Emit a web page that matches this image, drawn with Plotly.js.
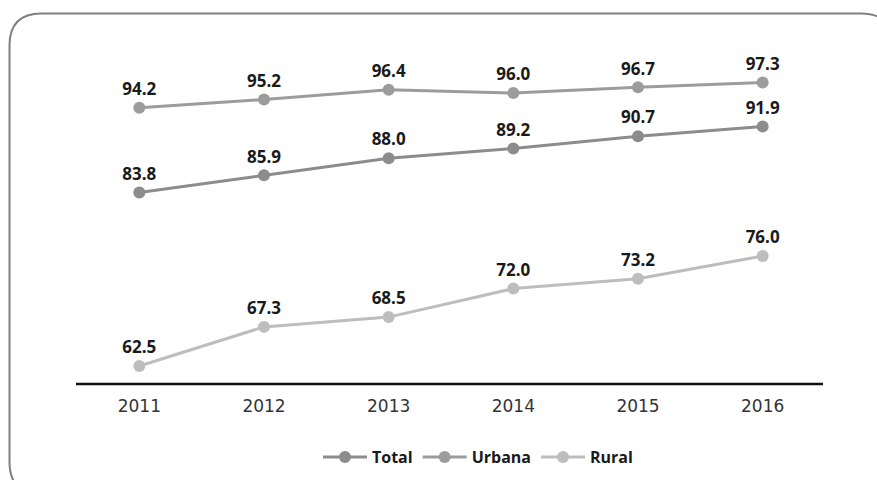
<!DOCTYPE html>
<html><head><meta charset="utf-8">
<script src="https://cdn.plot.ly/plotly-3.0.1.min.js"></script>
<style>html,body{margin:0;padding:0;background:#fff}#chart{width:877px;height:480px}</style>
</head><body><div id="chart"></div>
<script>
const years = ['2011','2012','2013','2014','2015','2016'];
const total = [83.8, 85.9, 88.0, 89.2, 90.7, 91.9];
const urbana = [94.2, 95.2, 96.4, 96.0, 96.7, 97.3];
const rural = [62.5, 67.3, 68.5, 72.0, 73.2, 76.0];

const L = 76, R = 54, T = 40, B = 96, W = 877, H = 480;
const pw = W - L - R, ph = H - T - B;
const px = x => (x - L) / pw;
const py = y => (H - B - y) / ph;

function mk(name, vals, color) {
  return {
    type: 'scatter', mode: 'lines+markers+text', name: name,
    x: years, y: vals,
    text: vals.map(v => v.toFixed(1)),
    textposition: 'top center',
    textfont: {family: 'Open Sans, DejaVu Sans, sans-serif', size: 17, color: '#1a1a1a', weight: 'bold'},
    line: {color: color, width: 3},
    marker: {color: color, size: 12},
    cliponaxis: false
  };
}

const data = [
  mk('Total', total, '#8c8c8c'),
  mk('Urbana', urbana, '#9c9c9c'),
  mk('Rural', rural, '#bdbdbd')
];

// rounded border (right and bottom edges run off the picture)
const r = 32;
const xl = px(9.5), xr = px(893), yt = py(13.5), yb = py(494);
const rx = r / pw, ry = r / ph;
const path = `M ${xl + rx} ${yb} Q ${xl} ${yb} ${xl} ${yb + ry} L ${xl} ${yt - ry} Q ${xl} ${yt} ${xl + rx} ${yt} L ${xr - rx} ${yt} Q ${xr} ${yt} ${xr} ${yt - ry}`;

const layout = {
  width: W, height: H,
  margin: {l: L, r: R, t: T, b: B},
  paper_bgcolor: '#fff', plot_bgcolor: '#fff',
  showlegend: true,
  legend: {orientation: 'h', xref: 'container', yref: 'container',
    x: 478 / W, xanchor: 'center', y: (H - 457) / H, yanchor: 'middle',
    font: {family: 'Open Sans, DejaVu Sans, sans-serif', size: 16, color: '#1a1a1a', weight: 'bold'},
    itemwidth: 44, traceorder: 'normal'},
  xaxis: {type: 'category', range: [-0.508, 5.484], showgrid: false, zeroline: false,
    showline: false, ticks: '', tickfont: {family: 'DejaVu Sans, sans-serif', size: 17, color: '#333'},
    ticklabelstandoff: 10},
  yaxis: {range: [60.29, 102.51], showgrid: false, zeroline: false, showticklabels: false, showline: false, ticks: ''},
  shapes: [
    {type: 'line', xref: 'paper', yref: 'paper', x0: 0, x1: 1, y0: 0, y1: 0, line: {color: '#111', width: 2.5}},
    {type: 'path', xref: 'paper', yref: 'paper', path: path, line: {color: '#808080', width: 2}}
  ]
};
Plotly.newPlot('chart', data, layout, {displayModeBar: false});
</script></body></html>
